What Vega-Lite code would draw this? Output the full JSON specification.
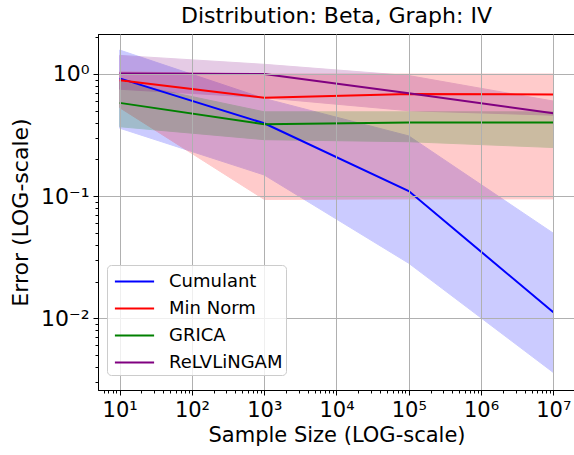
{
  "$schema": "https://vega.github.io/schema/vega-lite/v6.json",
  "width": 477,
  "height": 356,
  "autosize": "none",
  "padding": {"left": 98, "top": 34, "right": 0, "bottom": 65},
  "background": "white",
  "title": {"text": "Distribution: Beta, Graph: IV", "fontSize": 22, "font": "DejaVu Sans", "fontWeight": "normal", "offset": 6, "anchor": "middle", "color": "black"},
  "config": {"view": {"stroke": "black", "strokeWidth": 1, "strokeOpacity": 1}, "font": "DejaVu Sans"},
  "data": {"values": [
    {"method": "Cumulant", "n": 10, "mean": 0.92, "lo": 0.36, "hi": 1.57},
    {"method": "Cumulant", "n": 1000, "mean": 0.395, "lo": 0.149, "hi": 0.63},
    {"method": "Cumulant", "n": 100000, "mean": 0.11, "lo": 0.0282, "hi": 0.311},
    {"method": "Cumulant", "n": 10000000, "mean": 0.0112, "lo": 0.0036, "hi": 0.0497},
    {"method": "Min Norm", "n": 10, "mean": 0.89, "lo": 0.53, "hi": 1.04},
    {"method": "Min Norm", "n": 1000, "mean": 0.64, "lo": 0.094, "hi": 1.0},
    {"method": "Min Norm", "n": 100000, "mean": 0.686, "lo": 0.095, "hi": 1.0},
    {"method": "Min Norm", "n": 10000000, "mean": 0.68, "lo": 0.095, "hi": 1.0},
    {"method": "GRICA", "n": 10, "mean": 0.58, "lo": 0.37, "hi": 0.87},
    {"method": "GRICA", "n": 1000, "mean": 0.388, "lo": 0.29, "hi": 0.49},
    {"method": "GRICA", "n": 100000, "mean": 0.4, "lo": 0.279, "hi": 0.49},
    {"method": "GRICA", "n": 10000000, "mean": 0.4, "lo": 0.25, "hi": 0.49},
    {"method": "ReLVLiNGAM", "n": 10, "mean": 1.01, "lo": 0.75, "hi": 1.42},
    {"method": "ReLVLiNGAM", "n": 1000, "mean": 1.0, "lo": 0.64, "hi": 1.2},
    {"method": "ReLVLiNGAM", "n": 100000, "mean": 0.695, "lo": 0.5, "hi": 0.97},
    {"method": "ReLVLiNGAM", "n": 10000000, "mean": 0.477, "lo": 0.46, "hi": 0.6}
  ]},
  "layer": [
    {
      "mark": {"type": "area", "opacity": 0.2, "strokeWidth": 1},
      "encoding": {
        "x": {"field": "n", "type": "quantitative",
          "scale": {"type": "log", "domain": [5.0119, 19952623], "nice": false},
          "axis": {"values": [10, 100, 1000, 10000, 100000, 1000000, 10000000],
            "labelExpr": "'10' + ['⁰','¹','²','³','⁴','⁵','⁶','⁷'][round(log(datum.value)/LN10)]",
            "title": "Sample Size (LOG-scale)", "titleFontSize": 21, "titleFontWeight": "normal", "titleColor": "black", "titlePadding": 4,
            "labelFontSize": 21, "labelColor": "black", "labelPadding": 4, "labelFlush": false,
            "tickColor": "black", "tickSize": 5, "domain": true, "domainColor": "black",
            "grid": true, "gridColor": "#b0b0b0", "gridWidth": 1, "zindex": 1}},
        "y": {"field": "lo", "type": "quantitative",
          "scale": {"type": "log", "domain": [0.002588, 2.125], "nice": false},
          "axis": {"values": [0.01, 0.1, 1],
            "labelExpr": "datum.value >= 0.9 ? '10⁰' : datum.value >= 0.09 ? '10⁻¹' : '10⁻²'",
            "title": "Error (LOG-scale)", "titleFontSize": 22, "titleFontWeight": "normal", "titleColor": "black", "titlePadding": 8,
            "labelFontSize": 22, "labelColor": "black", "labelPadding": 4, "labelFlush": false,
            "tickColor": "black", "tickSize": 5, "domain": true, "domainColor": "black",
            "grid": true, "gridColor": "#b0b0b0", "gridWidth": 1, "zindex": 1}},
        "y2": {"field": "hi"},
        "color": {"field": "method", "type": "nominal",
          "scale": {"domain": ["Cumulant", "Min Norm", "GRICA", "ReLVLiNGAM"], "range": ["#0000ff", "#ff0000", "#008000", "#800080"]},
          "legend": {"title": null, "orient": "none", "legendX": 9, "legendY": 231, "zindex": 2,
            "symbolType": "M-1.6,0H1.6", "symbolStrokeWidth": 2, "symbolSize": 600, "symbolOpacity": 1, "symbolFillColor": "transparent",
            "labelFontSize": 18, "labelColor": "black", "labelOffset": 21,
            "padding": 3, "rowPadding": 4, "symbolOffset": 11, "fillColor": "rgba(255,255,255,0.8)",
            "strokeColor": "#cccccc", "cornerRadius": 4}},
        "stroke": {"field": "method", "type": "nominal",
          "scale": {"domain": ["Cumulant", "Min Norm", "GRICA", "ReLVLiNGAM"], "range": ["#0000ff", "#ff0000", "#008000", "#800080"]},
          "legend": null}
      }
    },
    {
      "mark": {"type": "line", "strokeWidth": 2},
      "encoding": {
        "x": {"field": "n", "type": "quantitative", "scale": {"type": "log", "domain": [5.0119, 19952623], "nice": false}, "axis": null},
        "y": {"field": "mean", "type": "quantitative", "scale": {"type": "log", "domain": [0.002588, 2.125], "nice": false}, "axis": null},
        "color": {"field": "method", "type": "nominal",
          "scale": {"domain": ["Cumulant", "Min Norm", "GRICA", "ReLVLiNGAM"], "range": ["#0000ff", "#ff0000", "#008000", "#800080"]},
          "legend": {"title": null, "orient": "none", "legendX": 9, "legendY": 231, "zindex": 2,
            "symbolType": "M-1.6,0H1.6", "symbolStrokeWidth": 2, "symbolSize": 600, "symbolOpacity": 1, "symbolFillColor": "transparent",
            "labelFontSize": 18, "labelColor": "black", "labelOffset": 21,
            "padding": 3, "rowPadding": 4, "symbolOffset": 11, "fillColor": "rgba(255,255,255,0.8)",
            "strokeColor": "#cccccc", "cornerRadius": 4}}
      }
    },
    {
      "mark": {"type": "point", "opacity": 0},
      "encoding": {
        "x": {"field": "n", "type": "quantitative", "scale": {"type": "log", "domain": [5.0119, 19952623], "nice": false},
          "axis": {"orient": "bottom", "values": [6,7,8,9,20,30,40,50,60,70,80,90,200,300,400,500,600,700,800,900,2000,3000,4000,5000,6000,7000,8000,9000,20000,30000,40000,50000,60000,70000,80000,90000,200000,300000,400000,500000,600000,700000,800000,900000,2000000,3000000,4000000,5000000,6000000,7000000,8000000,9000000],
            "labels": false, "title": null, "grid": false, "domain": false, "tickColor": "black", "tickSize": 3}},
        "y": {"field": "mean", "type": "quantitative", "scale": {"type": "log", "domain": [0.002588, 2.125], "nice": false},
          "axis": {"orient": "left", "values": [0.003,0.004,0.005,0.006,0.007,0.008,0.009,0.02,0.03,0.04,0.05,0.06,0.07,0.08,0.09,0.2,0.3,0.4,0.5,0.6,0.7,0.8,0.9,2],
            "labels": false, "title": null, "grid": false, "domain": false, "tickColor": "black", "tickSize": 3}}
      }
    },
    {
      "mark": {"type": "point", "opacity": 0},
      "encoding": {
        "x": {"field": "n", "type": "quantitative", "scale": {"type": "log", "domain": [5.0119, 19952623], "nice": false},
          "axis": {"orient": "top", "labels": false, "ticks": false, "title": null, "grid": false, "domain": true, "domainColor": "black"}}
      }
    }
  ],
  "resolve": {"axis": {"x": "independent", "y": "independent"}}
}
